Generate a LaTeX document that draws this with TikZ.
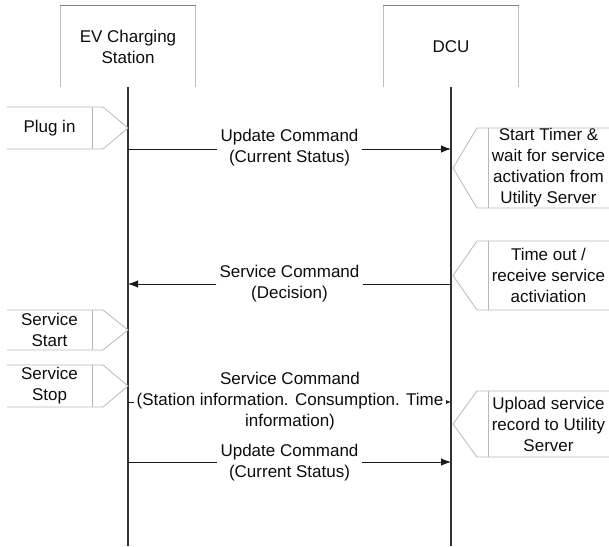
\documentclass[tikz,border=0pt]{standalone}
\usepackage{fontspec}
\setmainfont{Liberation Sans}
\usetikzlibrary{arrows.meta}
\newcommand\LeftNote[4]{%
  \draw[callout] (7,#1) -- (103,#1) -- (128,{(#1+#2)/2}) -- (103,#2) -- (7,#2);
  \draw[callout] (92,#1) -- (92,#2);
  \node[txt] (#3) at (49.5,{(#1+#2)/2}) {#4};}
\newcommand\RightNote[4]{%
  \draw[callout] (609,#1) -- (477,#1) -- (453,{(#1+#2)/2}) -- (477,#2) -- (609,#2);
  \draw[callout] (488,#1) -- (488,#2);
  \node[txt] (#3) at (548.5,{(#1+#2)/2}) {#4};}
\begin{document}
\begin{tikzpicture}[x=1pt,y=-1pt,
  txt/.style={font=\fontsize{17}{21}\selectfont, text=black!95, align=center, inner sep=0pt},
  head/.style={txt, minimum width=135pt, minimum height=81pt},
  headside/.style={draw=black!25, line width=0.8pt},
  headtop/.style={draw=black!50, line width=0.8pt},
  lifeline/.style={draw=black!80, line width=1.2pt},
  msg/.style={draw=black!90, line width=0.8pt},
  msgarrow/.style={msg, -{Latex[length=10pt,width=7.5pt]}},
  smallarrow/.style={msg, -{Latex[length=5pt,width=4pt]}},
  lbl/.style={txt, inner xsep=3pt, fill=white},
  callout/.style={draw=black!28, line width=0.8pt}]
\useasboundingbox (0,0) rectangle (609,546);

% headers
\node[head] (ev) at (128,46.5) {EV Charging\\Station};
\node[head] (dcu) at (451,46.5) {DCU};
\draw[headside] (ev.south west) -- (ev.north west);
\draw[headtop] (ev.north west) -- (ev.north east);
\draw[headside] (ev.north east) -- (ev.south east);
\draw[headside] (dcu.south west) -- (dcu.north west);
\draw[headtop] (dcu.north west) -- (dcu.north east);
\draw[headside] (dcu.north east) -- (dcu.south east);

% lifelines
\coordinate (evEnd) at (128,546);
\coordinate (dcuEnd) at (451,546);
\draw[lifeline] (ev.south) -- (evEnd);
\draw[lifeline] (dcu.south) -- (dcuEnd);

% left notes
\LeftNote{107}{149}{plug}{Plug in}
\LeftNote{310}{350}{sstart}{Service\\Start}
\LeftNote{365}{407}{sstop}{Service\\Stop}

% right notes
\RightNote{128}{208}{timer}{Start Timer \&\\wait for service\\activation from\\Utility Server}
\RightNote{241}{310}{tout}{Time out /\\receive service\\activiation}
\RightNote{391}{457}{upload}{Upload service\\record to Utility\\Server}

% message 1
\coordinate (m1a) at (128,149);
\coordinate (m1b) at (451,149);
\node[lbl] (l1) at (289.5,148) {Update Command\\(Current Status)};
\draw[msg] (m1a) -- (l1.west |- m1a);
\draw[msgarrow] (l1.east |- m1a) -- (m1b);

% message 2
\coordinate (m2a) at (128,284);
\coordinate (m2b) at (451,284);
\node[lbl] (l2) at (289.5,283.5) {Service Command\\(Decision)};
\draw[msg] (m2b) -- (l2.east |- m2b);
\draw[msgarrow] (l2.west |- m2b) -- (m2a);

% message 3
\coordinate (m3a) at (128,402);
\coordinate (m3b) at (451,402);
\node[lbl, inner xsep=2pt] (l3) at (290,401.5) {Service Command\\(Station information. Consumption. Time\\information)};
\draw[msg] (m3a) -- (l3.west |- m3a);
\draw[smallarrow] (l3.east |- m3a) -- (m3b);

% message 4
\coordinate (m4a) at (128,462);
\coordinate (m4b) at (451,462);
\node[lbl] (l4) at (289.5,462.5) {Update Command\\(Current Status)};
\draw[msg] (m4a) -- (l4.west |- m4a);
\draw[msgarrow] (l4.east |- m4a) -- (m4b);
\end{tikzpicture}
\end{document}
